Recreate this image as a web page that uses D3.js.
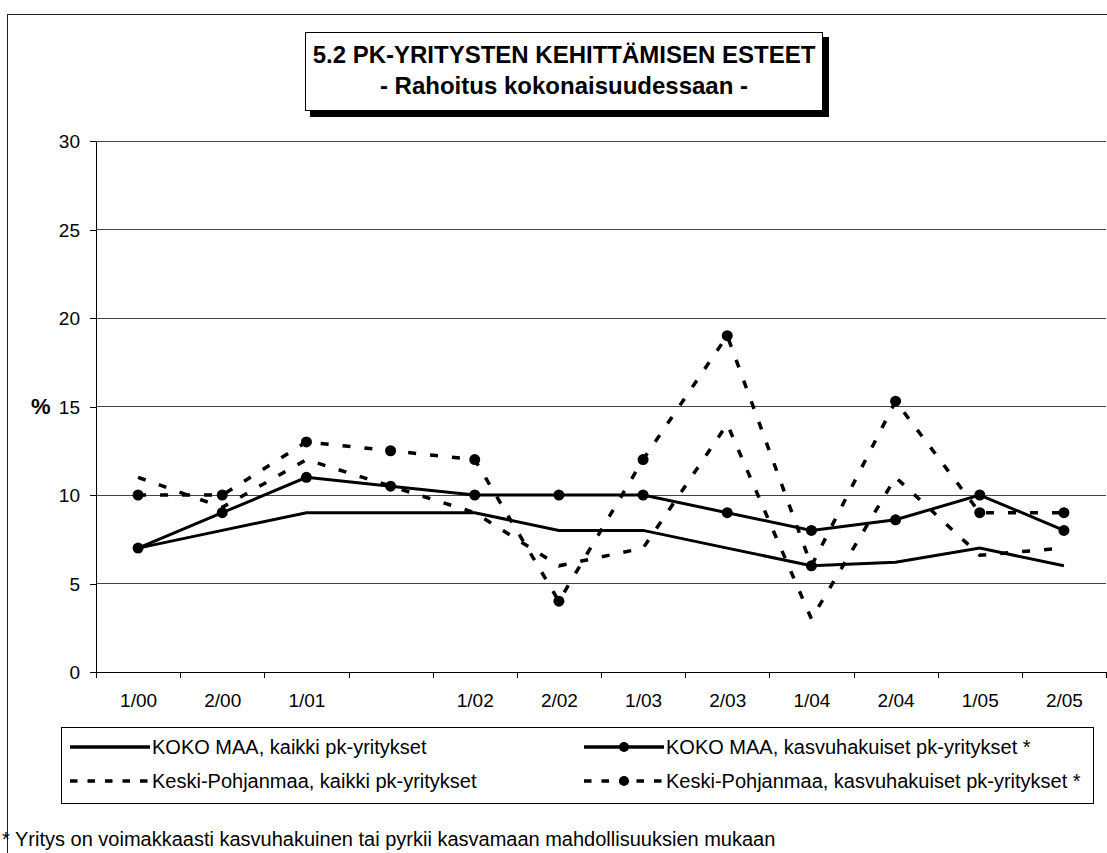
<!DOCTYPE html>
<html>
<head>
<meta charset="utf-8">
<script src="https://cdn.jsdelivr.net/npm/d3@7"></script>
<style>
  body { margin: 0; background: #fff; }
  svg { display: block; font-family: "Liberation Sans", Arial, sans-serif; }
  .axis path, .axis line { stroke: #000; shape-rendering: crispEdges; }
  .axis text { font-size: 19px; fill: #000; }
  .grid line { stroke: #444; shape-rendering: crispEdges; }
</style>
</head>
<body>
<svg width="1107" height="853"></svg>
<script>
// half-year survey rounds, the 4th one has no label in the original
var categories = ["1/00", "2/00", "1/01", "", "1/02", "2/02", "1/03", "2/03", "1/04", "2/04", "1/05", "2/05"];

var kokoMaaKaikki   = [7, 8, 9, 9, 9, 8, 8, 7, 6, 6.2, 7, 6];
var kokoMaaKasvu    = [7, 9, 11, 10.5, 10, 10, 10, 9, 8, 8.6, 10, 8];
var keskiPohjKaikki = [11, 9.3, 12, 10.5, 9, 6, 7, 14, 3, 11, 6.6, 7];
var keskiPohjKasvu  = [10, 10, 13, 12.5, 12, 4, 12, 19, 6, 15.3, 9, 9];

var yTicks = [0, 5, 10, 15, 20, 25, 30];

var seriesNames = [
  "KOKO MAA, kaikki pk-yritykset",
  "KOKO MAA, kasvuhakuiset pk-yritykset *",
  "Keski-Pohjanmaa, kaikki pk-yritykset",
  "Keski-Pohjanmaa, kasvuhakuiset pk-yritykset *"
];

var series = [
  { name: seriesNames[0], values: kokoMaaKaikki,   dash: null,   marker: false },
  { name: seriesNames[1], values: kokoMaaKasvu,    dash: null,   marker: true },
  { name: seriesNames[2], values: keskiPohjKaikki, dash: "8,14", marker: false },
  { name: seriesNames[3], values: keskiPohjKasvu,  dash: "8,14", marker: true }
];

var svg = d3.select("svg"),
    margin = { top: 141, left: 96 },
    width = 1010,
    height = 531;

// outer frame
svg.append("rect")
  .attr("x", 7.5).attr("y", 14.5)
  .attr("width", 1140).attr("height", 900)
  .attr("fill", "none").attr("stroke", "#222");

// title box with shadow
svg.append("rect")
  .attr("x", 310).attr("y", 37).attr("width", 519).attr("height", 80)
  .attr("fill", "#000");
svg.append("rect")
  .attr("x", 305.5).attr("y", 32.5).attr("width", 517).attr("height", 78)
  .attr("fill", "#fff").attr("stroke", "#000");
svg.append("text")
  .attr("x", 564).attr("y", 63)
  .attr("text-anchor", "middle")
  .style("font-size", "24px").style("font-weight", "bold")
  .text("5.2 PK-YRITYSTEN KEHITTÄMISEN ESTEET");
svg.append("text")
  .attr("x", 564).attr("y", 94)
  .attr("text-anchor", "middle")
  .style("font-size", "24px").style("font-weight", "bold")
  .text("- Rahoitus kokonaisuudessaan -");

var x = d3.scaleLinear().domain([0, categories.length]).range([0, width]),
    y = d3.scaleLinear().domain([0, 30]).range([height, 0]);

var g = svg.append("g")
  .attr("transform", "translate(" + margin.left + "," + margin.top + ")");

g.append("g")
  .attr("class", "grid")
  .selectAll("line")
  .data(yTicks.filter(function(d) { return d > 0; }))
  .enter().append("line")
    .attr("x1", 0).attr("x2", width)
    .attr("y1", function(d) { return y(d); })
    .attr("y2", function(d) { return y(d); });

g.append("g")
  .attr("class", "axis axis--y")
  .call(d3.axisLeft(y).tickValues(yTicks).tickSize(6).tickPadding(10).tickSizeOuter(0))
  .selectAll("text").attr("dy", "0.35em");

g.append("g")
  .attr("class", "axis axis--x")
  .attr("transform", "translate(0," + height + ")")
  .call(d3.axisBottom(x).tickValues(d3.range(categories.length + 1)).tickFormat("").tickSize(6).tickSizeOuter(0));

g.append("g")
  .attr("class", "axis axis--xlabels")
  .attr("transform", "translate(0," + height + ")")
  .call(d3.axisBottom(x)
    .tickValues(d3.range(categories.length).map(function(i) { return i + 0.5; }))
    .tickFormat(function(d) { return categories[Math.floor(d)]; })
    .tickSize(0).tickPadding(22))
  .call(function(a) { a.select(".domain").remove(); });

svg.append("text")
  .attr("x", 31).attr("y", 414)
  .style("font-size", "22px").style("font-weight", "bold")
  .text("%");

var line = d3.line()
  .x(function(d, i) { return x(i + 0.5); })
  .y(function(d) { return y(d); });

series.forEach(function(s) {
  g.append("path")
    .datum(s.values)
    .attr("fill", "none")
    .attr("stroke", "#000")
    .attr("stroke-width", s.dash ? 3.5 : 3)
    .attr("stroke-dasharray", s.dash)
    .attr("d", line);
  if (s.marker) {
    g.selectAll(null)
      .data(s.values)
      .enter().append("circle")
        .attr("cx", function(d, i) { return x(i + 0.5); })
        .attr("cy", function(d) { return y(d); })
        .attr("r", 5.5)
        .attr("fill", "#000");
  }
});

// legend
var legend = svg.append("g");
legend.append("rect")
  .attr("x", 61.5).attr("y", 727.5).attr("width", 1032).attr("height", 76)
  .attr("fill", "#fff").attr("stroke", "#000");

var legendPos = [
  { x: 70, y: 747 }, { x: 584, y: 747 },
  { x: 70, y: 781 }, { x: 584, y: 781 }
];

series.forEach(function(s, i) {
  var p = legendPos[i];
  var item = legend.append("g").attr("transform", "translate(" + p.x + "," + p.y + ")");
  item.append("line")
    .attr("x1", 0).attr("x2", 80)
    .attr("stroke", "#000")
    .attr("stroke-width", 3.5)
    .attr("stroke-dasharray", s.dash ? "7.5,10" : null);
  if (s.marker) item.append("circle").attr("cx", 40).attr("r", 5).attr("fill", "#000");
  item.append("text")
    .attr("x", 82).attr("dy", "0.35em")
    .style("font-size", "20px")
    .text(s.name);
});

svg.append("text")
  .attr("x", 2).attr("y", 846)
  .style("font-size", "20px")
  .text("* Yritys on voimakkaasti kasvuhakuinen tai pyrkii kasvamaan mahdollisuuksien mukaan");
</script>
</body>
</html>
